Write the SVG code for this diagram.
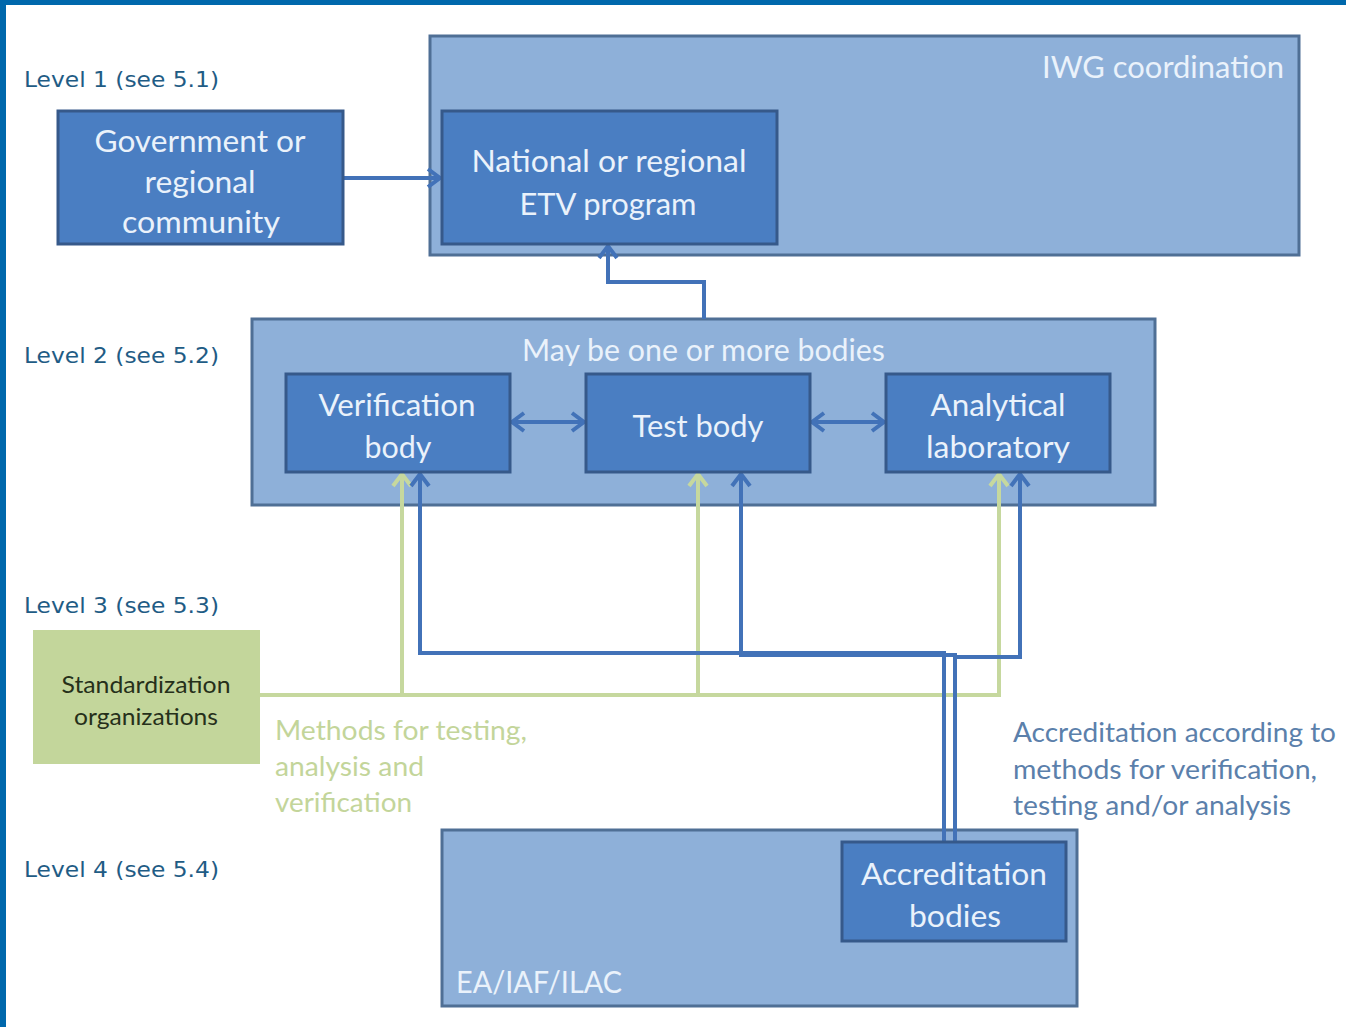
<svg xmlns="http://www.w3.org/2000/svg" width="1346" height="1027" viewBox="0 0 1346 1027">
<style>
.lvl{font-family:"DejaVu Sans",Verdana,sans-serif;font-size:21px;fill:#1f5c85}
.cont{fill:#8eb0d9;stroke:#4f6f95;stroke-width:3}
.box{fill:#4a7ec2;stroke:#36598a;stroke-width:3}
.bt{font-family:Lato,"Open Sans",sans-serif;font-size:30px;fill:#eaf2fb;text-anchor:middle}
.ct{font-family:Lato,"Open Sans",sans-serif;font-size:30px;fill:#eaf2fb}
.blue{fill:none;stroke:#4272b8;stroke-width:4}
.green{fill:none;stroke:#c6d89e;stroke-width:4}
.gt{font-family:Lato,"Open Sans",sans-serif;font-size:27px;fill:#c3d59a}
.at{font-family:Lato,"Open Sans",sans-serif;font-size:27px;fill:#5b80ab}
.st{font-family:Lato,"Open Sans",sans-serif;font-size:23px;fill:#26301a;text-anchor:middle}
</style>
<defs>
<marker id="ab" markerUnits="userSpaceOnUse" markerWidth="20" markerHeight="22" refX="16" refY="11" orient="auto-start-reverse"><path d="M4,2 L16,11 L4,20" fill="none" stroke="#4272b8" stroke-width="4"/></marker>
<marker id="ag" markerUnits="userSpaceOnUse" markerWidth="20" markerHeight="22" refX="16" refY="11" orient="auto"><path d="M4,2 L16,11 L4,20" fill="none" stroke="#c6d89e" stroke-width="4"/></marker>
</defs>
<rect x="0" y="0" width="1346" height="1027" fill="#ffffff"/>
<rect x="0" y="0" width="1346" height="5" fill="#0068ac"/>
<rect x="0" y="0" width="6" height="1027" fill="#0068ac"/>

<g id="labels">
<text class="lvl" x="24" y="87" textLength="195" lengthAdjust="spacingAndGlyphs">Level 1 (see 5.1)</text>
<text class="lvl" x="24" y="363" textLength="195" lengthAdjust="spacingAndGlyphs">Level 2 (see 5.2)</text>
<text class="lvl" x="24" y="613" textLength="195" lengthAdjust="spacingAndGlyphs">Level 3 (see 5.3)</text>
<text class="lvl" x="24" y="877" textLength="195" lengthAdjust="spacingAndGlyphs">Level 4 (see 5.4)</text>
</g>

<g id="iwg">
<rect class="cont" x="430" y="36" width="869" height="219"/>
<text class="ct" x="1042" y="78" textLength="242" lengthAdjust="spacingAndGlyphs">IWG coordination</text>
</g>
<g id="level2">
<rect class="cont" x="252" y="319" width="903" height="186"/>
<text class="ct" x="522" y="361" textLength="363" lengthAdjust="spacingAndGlyphs">May be one or more bodies</text>
</g>
<g id="level4">
<rect class="cont" x="442" y="830" width="635" height="176"/>
<text class="ct" x="456" y="993" textLength="166" lengthAdjust="spacingAndGlyphs">EA/IAF/ILAC</text>
</g>

<g id="connectors">
<path class="blue" d="M343,178 H440" marker-end="url(#ab)"/>
<path class="blue" d="M704,319 V282 H608 V246" marker-end="url(#ab)"/>
<path class="blue" d="M512,422 H584" marker-start="url(#ab)" marker-end="url(#ab)"/>
<path class="blue" d="M812,422 H884" marker-start="url(#ab)" marker-end="url(#ab)"/>
<path class="green" d="M260,695 H999 V474" marker-end="url(#ag)"/>
<path class="green" d="M402,695 V474" marker-end="url(#ag)"/>
<path class="green" d="M698,695 V474" marker-end="url(#ag)"/>
<path class="blue" d="M944,842 V653 H420 V474" marker-end="url(#ab)"/>
<path class="blue" d="M955,842 V655 H741 V474" marker-end="url(#ab)"/>
<path class="blue" d="M955,657 H1020 V474" marker-end="url(#ab)"/>
</g>

<g id="government">
<rect class="box" x="58" y="111" width="285" height="133"/>
<text class="bt" x="200" y="152" textLength="211" lengthAdjust="spacingAndGlyphs">Government or</text>
<text class="bt" x="200" y="193" textLength="111" lengthAdjust="spacingAndGlyphs">regional</text>
<text class="bt" x="201" y="233" textLength="158" lengthAdjust="spacingAndGlyphs">community</text>
</g>
<g id="national">
<rect class="box" x="442" y="111" width="335" height="133"/>
<text class="bt" x="609" y="172" textLength="275" lengthAdjust="spacingAndGlyphs">National or regional</text>
<text class="bt" x="608" y="215" textLength="177" lengthAdjust="spacingAndGlyphs">ETV program</text>
</g>
<g id="verification">
<rect class="box" x="286" y="374" width="224" height="98"/>
<text class="bt" x="397" y="416" textLength="157" lengthAdjust="spacingAndGlyphs">Verification</text>
<text class="bt" x="398" y="458" textLength="67" lengthAdjust="spacingAndGlyphs">body</text>
</g>
<g id="test">
<rect class="box" x="586" y="374" width="224" height="98"/>
<text class="bt" x="698" y="437" textLength="131" lengthAdjust="spacingAndGlyphs">Test body</text>
</g>
<g id="analytical">
<rect class="box" x="886" y="374" width="224" height="98"/>
<text class="bt" x="998" y="416" textLength="135" lengthAdjust="spacingAndGlyphs">Analytical</text>
<text class="bt" x="998" y="458" textLength="144" lengthAdjust="spacingAndGlyphs">laboratory</text>
</g>
<g id="standardization">
<rect x="33" y="630" width="227" height="134" fill="#c3d69b"/>
<text class="st" x="146" y="693" textLength="169" lengthAdjust="spacingAndGlyphs">Standardization</text>
<text class="st" x="146" y="725" textLength="144" lengthAdjust="spacingAndGlyphs">organizations</text>
</g>
<g id="accreditation">
<rect class="box" x="842" y="842" width="224" height="99"/>
<text class="bt" x="954" y="885" textLength="186" lengthAdjust="spacingAndGlyphs">Accreditation</text>
<text class="bt" x="955" y="927" textLength="92" lengthAdjust="spacingAndGlyphs">bodies</text>
</g>

<g id="notes">
<text class="gt" x="275" y="740" textLength="252" lengthAdjust="spacingAndGlyphs">Methods for testing,</text>
<text class="gt" x="275" y="776" textLength="149" lengthAdjust="spacingAndGlyphs">analysis and</text>
<text class="gt" x="275" y="812" textLength="137" lengthAdjust="spacingAndGlyphs">verification</text>
<text class="at" x="1013" y="742" textLength="323" lengthAdjust="spacingAndGlyphs">Accreditation according to</text>
<text class="at" x="1013" y="779" textLength="304" lengthAdjust="spacingAndGlyphs">methods for verification,</text>
<text class="at" x="1013" y="815" textLength="278" lengthAdjust="spacingAndGlyphs">testing and/or analysis</text>
</g>
</svg>
